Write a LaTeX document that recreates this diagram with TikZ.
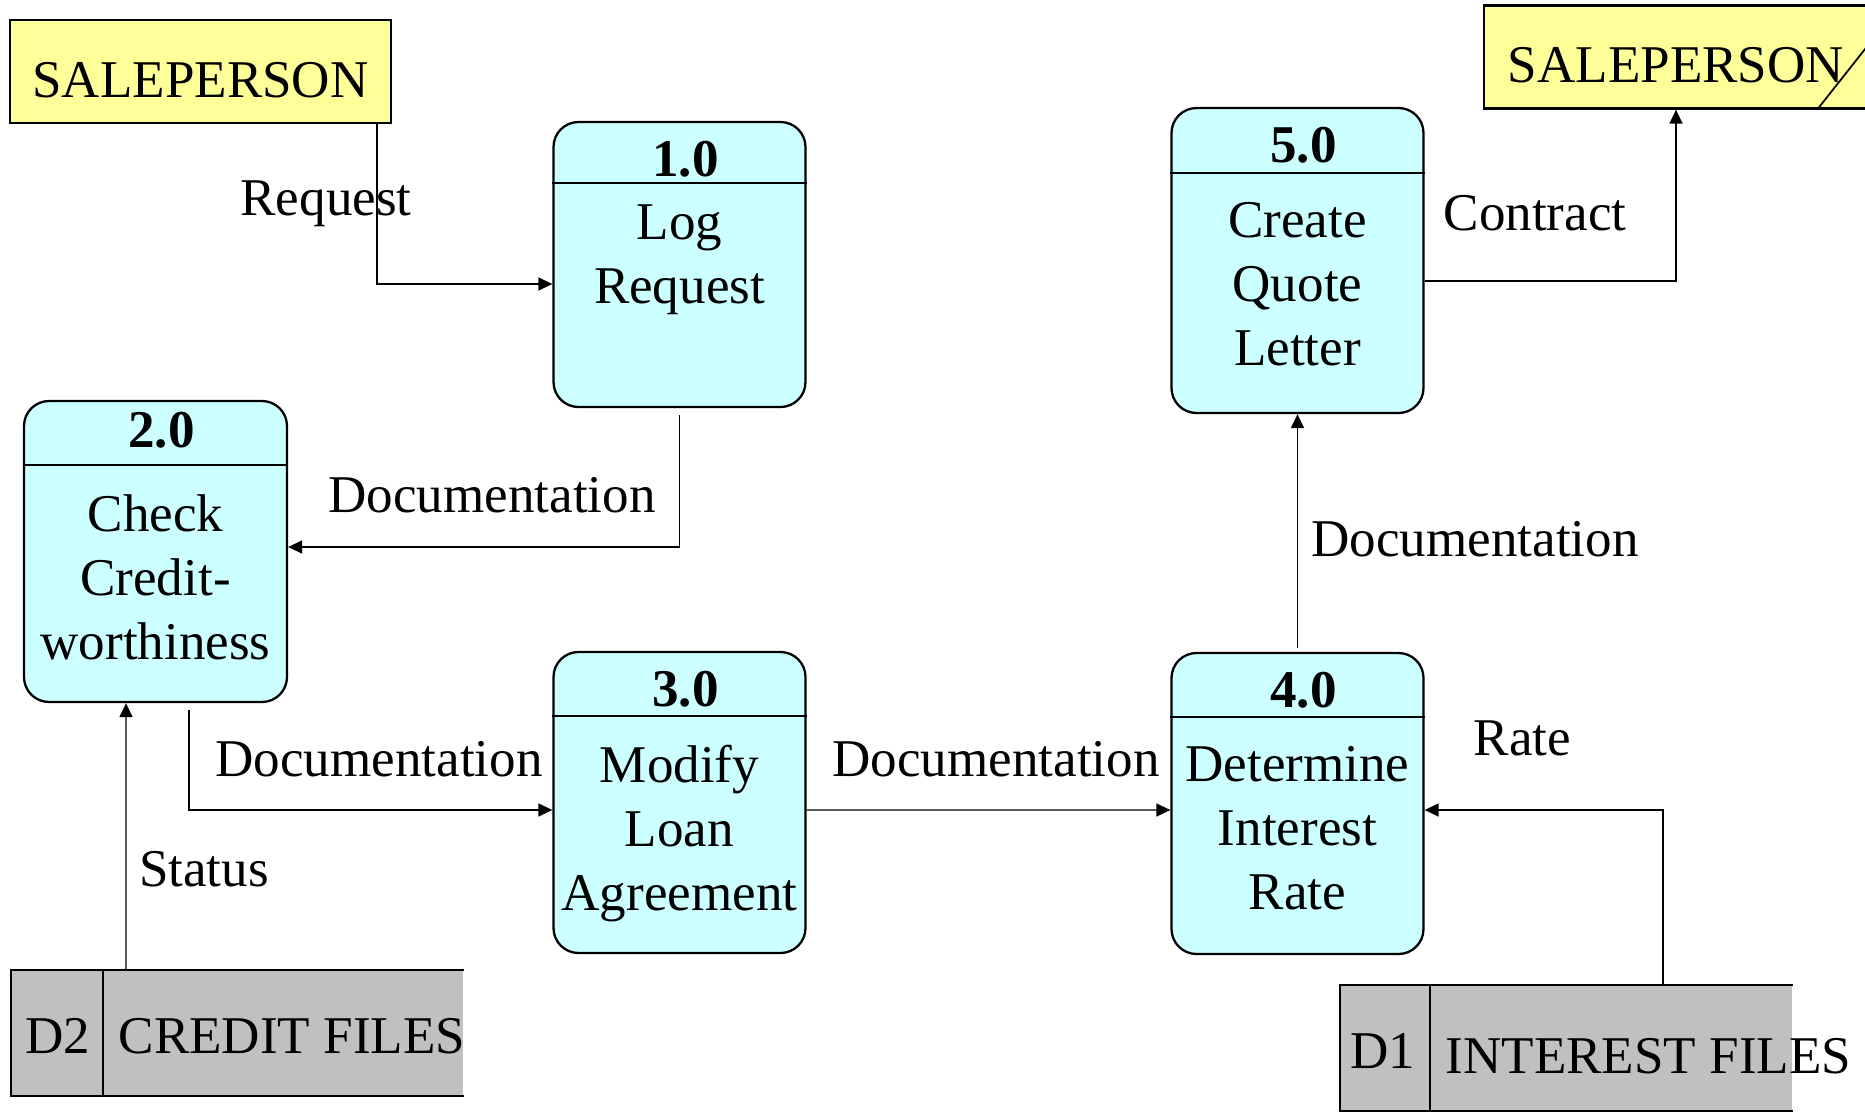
\documentclass[tikz,border=0pt]{standalone}
\usepackage{fontspec}
\setmainfont{Liberation Serif}
\usepackage{xcolor}
\definecolor{EntityYellow}{HTML}{FFFF99}
\definecolor{ProcessCyan}{HTML}{CCFFFF}
\definecolor{StoreGray}{HTML}{C0C0C0}
\usepackage{tikz}
\usetikzlibrary{positioning,arrows.meta,calc}

\begin{document}
\begin{tikzpicture}[
        x=1mm, y=-1mm,
        font=\fontsize{15.1}{18.2}\selectfont,
        entity/.style={
            rectangle, draw, line width=0.65pt, fill=EntityYellow,
            minimum width=38.1mm, minimum height=10.3mm, inner sep=0pt,
            text height=5.1mm, text depth=0mm
        },
        process/.style={
            rectangle, rounded corners=2.5mm,
            draw, line width=0.65pt, fill=ProcessCyan,
            minimum width=25.2mm, minimum height=30.1mm, inner sep=0pt
        },
        procnum/.style={font=\fontsize{15.1}{18.2}\selectfont\bfseries, anchor=base, inner sep=0pt},
        proctext/.style={align=center, inner sep=0pt},
        divider/.style={line width=0.5pt},
        store/.style={
            rectangle, fill=StoreGray, draw=none,
            minimum height=12.4mm, inner sep=0pt
        },
        storeline/.style={line width=0.55pt},
        storetext/.style={anchor=base, inner sep=0pt},
        flowlabel/.style={anchor=base, inner sep=0pt},
        arrow/.style={-{Triangle[length=1.4mm, width=1.3mm]}, line width=0.4pt}
    ]
        \useasboundingbox (0,0) rectangle (186.5,111.7);

        % external entities
        \node[entity] (sales) at (20.05,7.15) {SALEPERSON};
        \node[entity, minimum width=38.4mm] (salesdup) at (167.6,5.7) {SALEPERSON};
        \draw[line width=0.5pt] ([xshift=-5.2mm]salesdup.south east) -- ([xshift=-0.3mm, yshift=6.2mm]salesdup.south east);

        % processes
        \node[process, minimum height=28.5mm] (logreq) at (67.95,26.45) {};
        \draw[divider] ([yshift=-6.2mm]logreq.north west) -- ([yshift=-6.2mm]logreq.north east);
        \node[procnum] (logreqnum) at ([xshift=0.6mm, yshift=-5.6mm]logreq.north) {1.0};
        \node[proctext, below=8.3mm of logreq.north] (logreqtxt) {Log\\Request};

        \node[process, minimum width=26.3mm] (credit) at (15.55,55.15) {};
        \draw[divider] ([yshift=-6.5mm]credit.north west) -- ([yshift=-6.5mm]credit.north east);
        \node[procnum] (creditnum) at ([xshift=0.6mm, yshift=-4.8mm]credit.north) {2.0};
        \node[proctext, below=9.4mm of credit.north] (credittxt) {Check\\Credit-\\worthiness};

        \node[process] (modify) at (67.95,80.25) {};
        \draw[divider] ([yshift=-6.5mm]modify.north west) -- ([yshift=-6.5mm]modify.north east);
        \node[procnum] (modifynum) at ([xshift=0.6mm, yshift=-5.6mm]modify.north) {3.0};
        \node[proctext, below=9.4mm of modify.north] (modifytxt) {Modify\\Loan\\Agreement};

        \node[process] (interest) at (129.75,80.35) {};
        \draw[divider] ([yshift=-6.5mm]interest.north west) -- ([yshift=-6.5mm]interest.north east);
        \node[procnum] (interestnum) at ([xshift=0.6mm, yshift=-5.6mm]interest.north) {4.0};
        \node[proctext, below=9.4mm of interest.north] (interesttxt) {Determine\\Interest\\Rate};

        \node[process, minimum height=30.5mm] (quote) at (129.75,26.05) {};
        \draw[divider] ([yshift=-6.6mm]quote.north west) -- ([yshift=-6.6mm]quote.north east);
        \node[procnum] (quotenum) at ([xshift=0.6mm, yshift=-5.6mm]quote.north) {5.0};
        \node[proctext, below=9.5mm of quote.north] (quotetxt) {Create\\Quote\\Letter};

        % data stores, open on the right
        \node[store, minimum width=45.1mm] (creditfiles) at (23.75,103.3) {};
        \draw[storeline] (creditfiles.north east) -- (creditfiles.north west) -- (creditfiles.south west) -- (creditfiles.south east);
        \draw[storeline] ([xshift=9.2mm]creditfiles.north west) -- ([xshift=9.2mm]creditfiles.south west);
        \node[storetext] (creditid) at (5.75,105.3) {D2};
        \node[storetext, anchor=base west] (creditname) at (11.8,105.3) {CREDIT FILES};

        \node[store, minimum width=45.1mm] (interestfiles) at (156.65,104.8) {};
        \draw[storeline] (interestfiles.north east) -- (interestfiles.north west) -- (interestfiles.south west) -- (interestfiles.south east);
        \draw[storeline] ([xshift=9mm]interestfiles.north west) -- ([xshift=9mm]interestfiles.south west);
        \node[storetext] (interestid) at (138.3,106.8) {D1};
        \node[storetext, anchor=base west] (interestname) at (144.5,107.3) {INTEREST FILES};

        % data flows
        \draw[arrow] ([xshift=-1.5mm]sales.south east) |- ([yshift=-1.95mm]logreq.west);
        \draw[arrow] ([yshift=-0.7mm]logreq.south) |- ([yshift=0.45mm]credit.east);
        \draw[arrow] ([xshift=3.35mm, yshift=-0.7mm]credit.south) |- ([yshift=-0.75mm]modify.west);
        \draw[arrow] ([xshift=-11.15mm]creditfiles.north) -- ([xshift=-2.95mm]credit.south);
        \draw[arrow] ([yshift=-0.75mm]modify.east) -- ([yshift=-0.65mm]interest.west);
        \draw[arrow] ([xshift=9.65mm]interestfiles.north) |- ([yshift=-0.65mm]interest.east);
        \draw[arrow] ([yshift=0.4mm]interest.north) -- (quote.south);
        \draw[arrow] ([yshift=-2.05mm]quote.east) -| (salesdup.south);

        % flow labels
        \node[flowlabel] (reqlbl) at (32.6,21.5) {Request};
        \node[flowlabel] (doclbla) at (49.2,51.2) {Documentation};
        \node[flowlabel] (doclblb) at (37.9,77.6) {Documentation};
        \node[flowlabel] (statuslbl) at (20.4,88.6) {Status};
        \node[flowlabel] (doclblc) at (99.6,77.6) {Documentation};
        \node[flowlabel] (ratelbl) at (152.25,75.5) {Rate};
        \node[flowlabel] (doclbld) at (147.5,55.6) {Documentation};
        \node[flowlabel] (contractlbl) at (153.5,23.0) {Contract};
    \end{tikzpicture}
\end{document}
